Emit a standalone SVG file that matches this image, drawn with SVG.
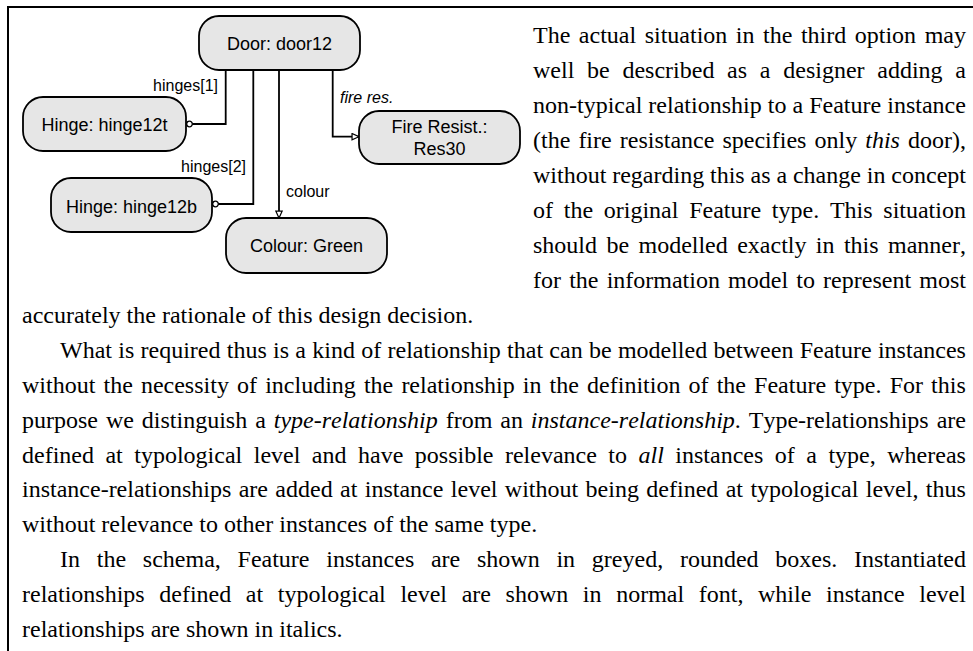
<svg xmlns="http://www.w3.org/2000/svg" width="973" height="651" viewBox="0 0 973 651">
<style>
.node rect{fill:#e6e6e6;stroke:#000;stroke-width:1.8}
.nl{font-family:"Liberation Sans",Arial,sans-serif;font-size:18px;text-anchor:middle;fill:#000}
.el{font-family:"Liberation Sans",Arial,sans-serif;font-size:16px;fill:#000}
.conn path{fill:none;stroke:#000;stroke-width:1.8}
.body{font-family:"Liberation Serif","Times New Roman",serif;font-size:24px;fill:#000;font-kerning:none}
.frame{fill:none;stroke:#000;stroke-width:2}
</style>
<defs>
<marker id="tri" viewBox="0 0 10 10" refX="9.5" refY="5" markerWidth="8" markerHeight="8" markerUnits="userSpaceOnUse" orient="auto"><path d="M0.8,1 L9.5,5 L0.8,9 Z" fill="#fff" stroke="#000" stroke-width="1.5"/></marker>
<marker id="ring" viewBox="0 0 8 8" refX="4" refY="4" markerWidth="8" markerHeight="8" markerUnits="userSpaceOnUse" orient="auto"><circle cx="4" cy="4" r="2.8" fill="#fff" stroke="#000" stroke-width="1.3"/></marker>
</defs>
<path class="frame" d="M8,651 L8,7 L973,7"/>
<g class="conn" id="connectors">
<path d="M225.7,70 L225.7,124 L189.5,124" marker-end="url(#ring)"/>
<path d="M253.3,70 L253.3,204 L215.5,204" marker-end="url(#ring)"/>
<path d="M279,70 L279,218" marker-end="url(#tri)"/>
<path d="M332.7,70 L332.7,136.7 L359,136.7" marker-end="url(#tri)"/>
<text class="el" x="218" y="90.7" text-anchor="end">hinges[1]</text>
<text class="el" x="340" y="103.3" font-style="italic">fire res.</text>
<text class="el" x="246" y="171.7" text-anchor="end">hinges[2]</text>
<text class="el" x="286" y="197.3">colour</text>
</g>
<g class="node" id="door12"><rect x="199" y="16" width="161" height="54" rx="20"/><text class="nl" x="279.5" y="50">Door: door12</text></g>
<g class="node" id="hinge12t"><rect x="23" y="97" width="163" height="54" rx="20"/><text class="nl" x="104.5" y="131">Hinge: hinge12t</text></g>
<g class="node" id="hinge12b"><rect x="51" y="178" width="161" height="54" rx="20"/><text class="nl" x="131.5" y="212.5">Hinge: hinge12b</text></g>
<g class="node" id="green"><rect x="226" y="218" width="161" height="55" rx="20"/><text class="nl" x="306.5" y="252.3">Colour: Green</text></g>
<g class="node" id="res30"><rect x="359" y="111" width="161" height="53" rx="20"/><text class="nl" x="439.5" y="133.3">Fire Resist.:</text><text class="nl" x="439.5" y="155">Res30</text></g>
<g id="text">
<text class="body" x="533" y="43.3" style="word-spacing:2.53px">The actual situation in the third option may</text>
<text class="body" x="533" y="78.2" style="word-spacing:6.73px">well be described as a designer adding a</text>
<text class="body" x="533" y="113.2" style="word-spacing:0.07px">non-typical relationship to a Feature instance</text>
<text class="body" x="533" y="148.1" style="word-spacing:2.07px">(the fire resistance specifies only <tspan font-style="italic">this</tspan> door),</text>
<text class="body" x="533" y="183" style="word-spacing:-0.13px">without regarding this as a change in concept</text>
<text class="body" x="533" y="217.9" style="word-spacing:4.73px">of the original Feature type. This situation</text>
<text class="body" x="533" y="252.9" style="word-spacing:3.4px">should be modelled exactly in this manner,</text>
<text class="body" x="533" y="287.8" style="word-spacing:2.17px">for the information model to represent most</text>
<text class="body" x="22" y="322.7">accurately the rationale of this design decision.</text>
<text class="body" x="60" y="357.7" style="word-spacing:0.28px">What is required thus is a kind of relationship that can be modelled between Feature instances</text>
<text class="body" x="22" y="392.6" style="word-spacing:2.13px">without the necessity of including the relationship in the definition of the Feature type. For this</text>
<text class="body" x="22" y="427.5" style="word-spacing:1.94px">purpose we distinguish a <tspan font-style="italic">type-relationship</tspan> from an <tspan font-style="italic">instance-relationship</tspan>. Type-relationships are</text>
<text class="body" x="22" y="462.5" style="word-spacing:5.49px">defined at typological level and have possible relevance to <tspan font-style="italic">all</tspan> instances of a type, whereas</text>
<text class="body" x="22" y="497.4" style="word-spacing:1.4px">instance-relationships are added at instance level without being defined at typological level, thus</text>
<text class="body" x="22" y="532.3">without relevance to other instances of the same type.</text>
<text class="body" x="60" y="567.3" style="word-spacing:10.75px">In the schema, Feature instances are shown in greyed, rounded boxes. Instantiated</text>
<text class="body" x="22" y="602.2" style="word-spacing:8.62px">relationships defined at typological level are shown in normal font, while instance level</text>
<text class="body" x="22" y="637.1">relationships are shown in italics.</text>
</g>
</svg>
